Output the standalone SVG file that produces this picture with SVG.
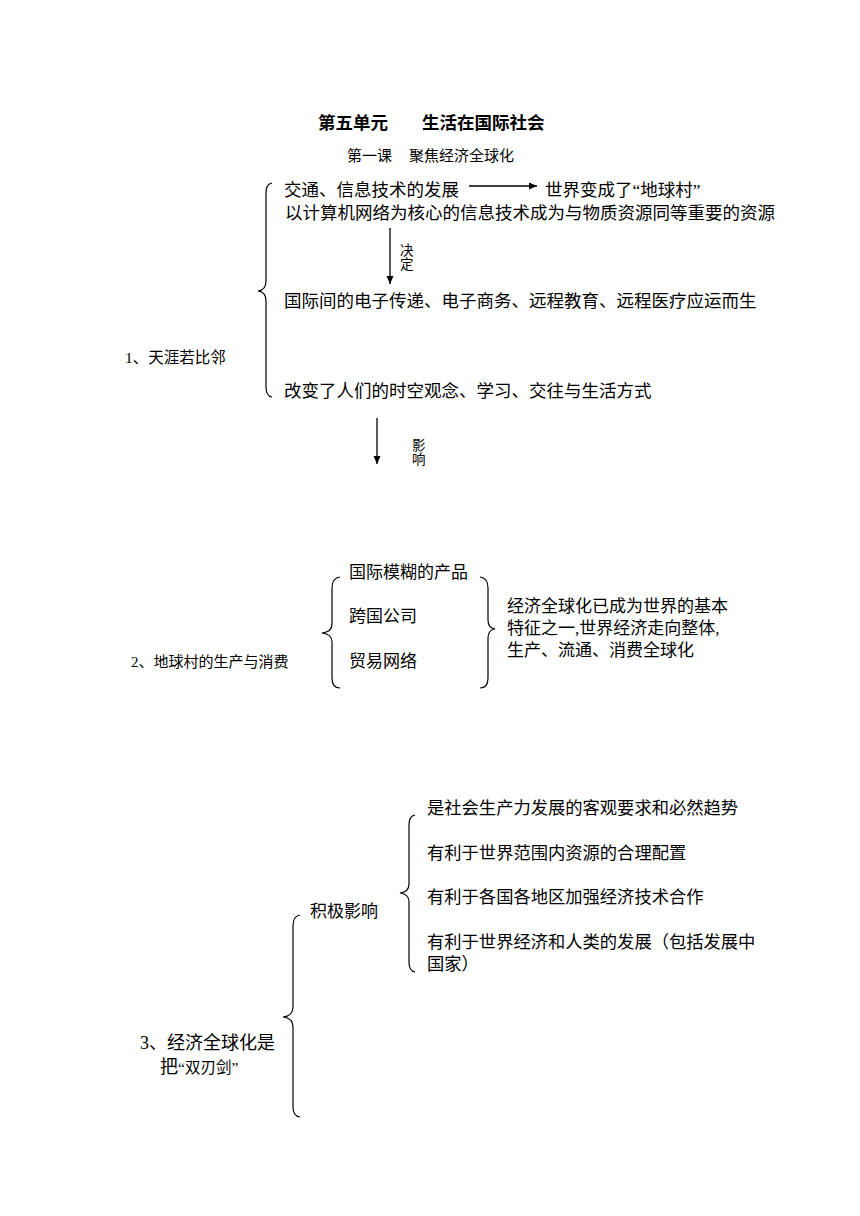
<svg xmlns="http://www.w3.org/2000/svg" width="860" height="1216" viewBox="0 0 860 1216">
<defs>
<marker id="ah" markerWidth="8" markerHeight="8" refX="8" refY="4" orient="auto" markerUnits="userSpaceOnUse">
<path d="M0,0.5 L8,4 L0,7.5 Z" fill="#000"/>
</marker>
<style>
.t{font-family:"Liberation Serif","Noto Sans CJK SC",sans-serif;fill:#000;}
.h{font-family:"Noto Sans CJK SC",sans-serif;font-weight:bold;font-size:17.5px;fill:#000;}
.b{font-size:17.5px;}
.m{font-size:17px;}
.n{font-size:17.3px;}
.s{font-size:15px;}
.x{font-size:13.5px;}
.br{fill:none;stroke:#000;stroke-width:1.2;}
.ln{fill:none;stroke:#000;stroke-width:1.3;}
</style>
</defs>
<rect width="860" height="1216" fill="#fff"/>

<g id="title">
<text class="h" x="318" y="129">第五单元</text>
<text class="h" x="422" y="129">生活在国际社会</text>
</g>
<g id="subtitle">
<text class="t s" x="347" y="161">第一课</text>
<text class="t s" x="409" y="161">聚焦经济全球化</text>
</g>

<g id="sec1">
<text class="t" x="125" y="363" style="font-size:15.5px">1、天涯若比邻</text>
<path class="br" d="M272,183 Q266,184 266,193 L266,281 Q266,290 258,291 Q266,292 266,301 L266,387 Q266,396 272,397"/>
</g>
<g id="n-traffic"><text class="t b" x="284" y="196">交通、信息技术的发展</text></g>
<g id="n-village"><text class="t b" x="545" y="196">世界变成了“地球村”</text></g>
<g id="n-resource"><text class="t b" x="285" y="219">以计算机网络为核心的信息技术成为与物质资源同等重要的资源</text></g>
<g id="n-ecom"><text class="t b" x="284" y="307">国际间的电子传递、电子商务、远程教育、远程医疗应运而生</text></g>
<g id="n-change"><text class="t b" x="284" y="397">改变了人们的时空观念、学习、交往与生活方式</text></g>

<g id="sec2">
<text class="t s" x="131" y="667">2、地球村的生产与消费</text>
<path class="br" d="M340,577 Q332,578 332,588 L332,624 Q332,632 322,633 Q332,634 332,642 L332,678 Q332,688 340,688"/>
<path class="br" d="M480,577 Q488,578 488,588 L488,620 Q488,628 495,629 Q488,630 488,638 L488,678 Q488,688 480,688"/>
</g>
<g id="n-prod"><text class="t m" x="349" y="578">国际模糊的产品</text></g>
<g id="n-corp"><text class="t m" x="349" y="622">跨国公司</text></g>
<g id="n-trade"><text class="t m" x="349" y="667">贸易网络</text></g>
<g id="n-global">
<text class="t m" x="507" y="612">经济全球化已成为世界的基本</text>
<text class="t m" x="507" y="634">特征之一,世界经济走向整体,</text>
<text class="t m" x="507" y="656">生产、流通、消费全球化</text>
</g>

<g id="sec3">
<text class="t" x="140" y="1049" style="font-size:18px">3、经济全球化是</text>
<text class="t" x="160" y="1073"><tspan style="font-size:18px">把</tspan><tspan style="font-size:15.5px">“双刃剑”</tspan></text>
<path class="br" d="M300,915 Q293,916 293,926 L293,1007 Q293,1016 283,1017 Q293,1018 293,1027 L293,1107 Q293,1116 300,1117"/>
</g>
<g id="n-positive">
<text class="t m" x="310" y="917">积极影响</text>
<path class="br" d="M415,815 Q409,816 409,825 L409,884 Q409,892 400,893 Q409,894 409,902 L409,962 Q409,971 415,972"/>
</g>
<g id="n-p1"><text class="t n" x="427" y="814">是社会生产力发展的客观要求和必然趋势</text></g>
<g id="n-p2"><text class="t n" x="427" y="859">有利于世界范围内资源的合理配置</text></g>
<g id="n-p3"><text class="t n" x="427" y="903">有利于各国各地区加强经济技术合作</text></g>
<g id="n-p4">
<text class="t n" x="427" y="948">有利于世界经济和人类的发展（包括发展中</text>
<text class="t n" x="427" y="970">国家）</text>
</g>

<g id="connectors">
<line class="ln" x1="469" y1="186" x2="537" y2="186" marker-end="url(#ah)"/>
<line class="ln" x1="390" y1="228" x2="390" y2="284" marker-end="url(#ah)"/>
<text class="t x" x="400" y="255">决</text>
<text class="t x" x="400" y="269">定</text>
<line class="ln" x1="377" y1="418" x2="377" y2="464" marker-end="url(#ah)"/>
<text class="t x" x="412" y="450">影</text>
<text class="t x" x="412" y="464">响</text>
</g>
</svg>
